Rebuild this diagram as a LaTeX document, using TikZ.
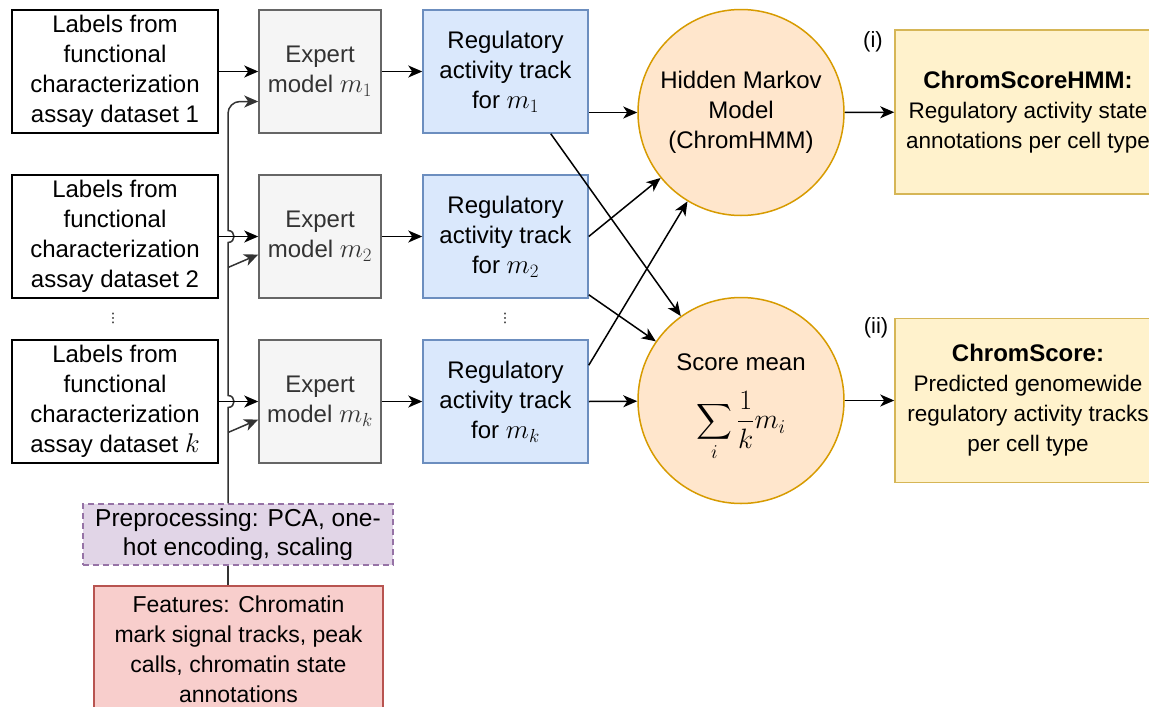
\RequirePackage{fix-cm}
\documentclass[tikz,border=0pt]{standalone}
\usepackage{amsmath}
\usepackage[no-math]{fontspec}
\setmainfont{Liberation Sans}
\newfontfamily\djv{DejaVu Sans}
\usetikzlibrary{arrows.meta,calc}
\definecolor{cgray}{HTML}{F5F5F5}
\definecolor{cgrayb}{HTML}{666666}
\definecolor{ctext}{HTML}{333333}
\definecolor{cblue}{HTML}{DAE8FC}
\definecolor{cblueb}{HTML}{6C8EBF}
\definecolor{corange}{HTML}{FFE6CC}
\definecolor{corangeb}{HTML}{D79B00}
\definecolor{cyellow}{HTML}{FFF2CC}
\definecolor{cyellowb}{HTML}{D6B656}
\definecolor{cpurple}{HTML}{E1D5E7}
\definecolor{cpurpleb}{HTML}{9673A6}
\definecolor{cred}{HTML}{F8CECC}
\definecolor{credb}{HTML}{B85450}
\newcommand{\mth}[1]{{\fontsize{27}{30}\selectfont$#1$}}
\tikzset{
 base/.style={align=center, font=\fontsize{24}{30}\selectfont, inner sep=0pt},
 lbl/.style={base, draw=black, line width=2pt, minimum width=206pt, minimum height=123pt},
 expert/.style={base, draw=cgrayb, fill=cgray, text=ctext, line width=1.5pt, minimum width=122pt, minimum height=123pt},
 track/.style={base, draw=cblueb, fill=cblue, line width=1.5pt, minimum width=165pt, minimum height=123pt},
 ball/.style={base, circle, draw=corangeb, fill=corange, line width=1.5pt, minimum size=206pt},
 result/.style={base, draw=cyellowb, fill=cyellow, line width=1.5pt, minimum width=266pt, minimum height=164pt, font=\fontsize{22.5}{30}\selectfont},
 prebox/.style={base, draw=cpurpleb, fill=cpurple, dashed, dash pattern=on 6pt off 4pt, line width=1.5pt, minimum width=310pt, minimum height=61pt, font=\fontsize{24.5}{29}\selectfont},
 featbox/.style={base, draw=credb, fill=cred, line width=1.5pt, minimum width=289pt, minimum height=126pt, font=\fontsize{23}{30}\selectfont},
 arr/.style={line width=1.5pt, -{Stealth[length=14pt,width=12pt,inset=4pt]}},
 trunkline/.style={line width=1.5pt, draw=ctext},
 garr/.style={arr, draw=ctext},
 tag/.style={font=\fontsize{22}{26}\selectfont, inner sep=0pt},
 dots/.style={font=\djv\fontsize{13}{13}\selectfont, inner sep=0pt},
}
\begin{document}
\begin{tikzpicture}[x=1pt,y=-1pt]
\clip (0,0) rectangle (1149,707);
\fill[white] (0,0) rectangle (1149,707);
% left label boxes
\node[lbl] (l1) at (115,71.5) {Labels from\\functional\\characterization\\assay dataset 1};
\node[lbl] (l2) at (115,236.5) {Labels from\\functional\\characterization\\assay dataset 2};
\node[lbl] (l3) at (115,401.5) {Labels from\\functional\\characterization\\assay dataset \mth{k}};
\node[dots] (d1) at (113,318) {⋮};
% expert models
\node[expert] (e1) at (320,71.5) {Expert\\model \mth{m_1}};
\node[expert] (e2) at (320,236.5) {Expert\\model \mth{m_2}};
\node[expert] (e3) at (320,401.5) {Expert\\model \mth{m_k}};
% tracks
\node[track] (r1) at (505.5,71.5) {Regulatory\\activity track\\for \mth{m_1}};
\node[track] (r2) at (505.5,236.5) {Regulatory\\activity track\\for \mth{m_2}};
\node[track] (r3) at (505.5,401.5) {Regulatory\\activity track\\for \mth{m_k}};
\node[dots] (d2) at (505,318) {⋮};
% circles
\node[ball] (hmm) at (741,112.5) {Hidden Markov\\Model\\(ChromHMM)};
\node[ball] (score) at (741,400.5) {\rule{0pt}{31pt}Score mean\\[20pt]{\fontsize{28}{30}\selectfont$\displaystyle\sum_{i}\frac{1}{k}m_i$}};
% outputs
\node[result] (o1) at (1028,112) {{\fontsize{24}{30}\selectfont\textbf{ChromScoreHMM:}}\\Regulatory activity state\\annotations per cell type};
\node[result] (o2) at (1028,400.5) {{\fontsize{24}{30}\selectfont\textbf{ChromScore:}}\\Predicted genomewide\\regulatory activity tracks\\per cell type};
\node[tag] (t1) at (873,42) {(i)};
\node[tag] (t2) at (876,328) {(ii)};
% preprocessing and features
\node[prebox] (pre) at (238,534.5) {Preprocessing: PCA, one-\\hot encoding, scaling};
\node[featbox] (feat) at (238.5,649) {Features: Chromatin\\mark signal tracks, peak\\calls, chromatin state\\annotations};
% trunk
\coordinate (trunk) at (228,0);
\coordinate (e1in) at ($(e1.west)+(0,30)$);
\draw[trunkline] (feat.north -| trunk) -- (pre.south -| trunk);
\draw[garr] (pre.north -| trunk)
  -- ($(l3.east -| trunk)+(0,6)$) .. controls +(8,0) and +(8,0) .. ($(l3.east -| trunk)+(0,-6)$)
  -- ($(l2.east -| trunk)+(0,6)$) .. controls +(8,0) and +(8,0) .. ($(l2.east -| trunk)+(0,-6)$)
  [rounded corners=12pt] -- (trunk |- e1in) -- (e1in);
\draw[garr] ($(trunk |- e2.west)+(0,31)$) -- ($(e2.west)+(0,18)$);
\draw[garr] ($(trunk |- e3.west)+(0,31)$) -- ($(e3.west)+(0,18)$);
% label -> expert
\draw[arr] (l1) -- (e1);
\draw[arr] (l2) -- (e2);
\draw[arr] (l3) -- (e3);
% expert -> track
\draw[arr] (e1) -- (r1);
\draw[arr] (e2) -- (r2);
\draw[arr] (e3) -- (r3);
% track -> circles
\draw[arr] (r1.east |- hmm) -- (hmm);
\draw[arr] ($(r1.south east)+(-38,0)$) -- (score);
\draw[arr] (r2.east) -- (hmm);
\draw[arr] ($(r2.south east)+(0,-4)$) -- (score);
\draw[arr] ($(r3.north east)+(0,26)$) -- (hmm);
\draw[arr] (r3.east) -- (score);
% circles -> outputs
\draw[arr] (hmm) -- (o1);
\draw[arr] (score) -- (o2);
\end{tikzpicture}
\end{document}
